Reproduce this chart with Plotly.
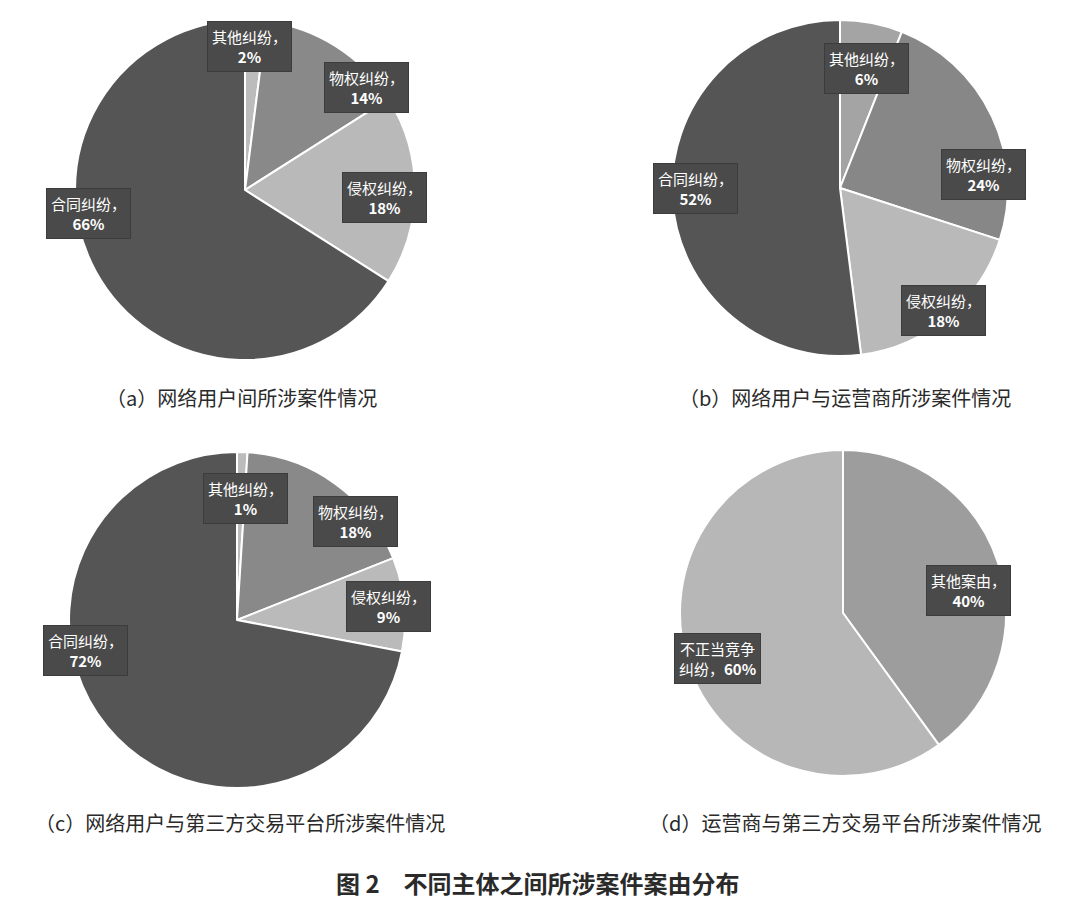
import plotly.graph_objects as go

W, H = 1080, 900

# ---- data ----
labels_a = ["其他纠纷", "物权纠纷", "侵权纠纷", "合同纠纷"]
values_a = [2, 14, 18, 66]
labels_b = ["其他纠纷", "物权纠纷", "侵权纠纷", "合同纠纷"]
values_b = [6, 24, 18, 52]
labels_c = ["其他纠纷", "物权纠纷", "侵权纠纷", "合同纠纷"]
values_c = [1, 18, 9, 72]
labels_d = ["其他案由", "不正当竞争纠纷"]
values_d = [40, 60]

captions = ["（a）网络用户间所涉案件情况", "（b）网络用户与运营商所涉案件情况",
            "（c）网络用户与第三方交易平台所涉案件情况", "（d）运营商与第三方交易平台所涉案件情况"]
title_text = "图 2　不同主体之间所涉案件案由分布"

colors_a = ["#bcbcbc", "#898989", "#b9b9b9", "#555555"]
colors_b = ["#a4a4a4", "#878787", "#b9b9b9", "#555555"]
colors_c = ["#bcbcbc", "#898989", "#bababa", "#555555"]
colors_d = ["#9d9d9d", "#b7b7b7"]

FONT = "Noto Sans CJK SC"


def px2x(px):
    return px / W


def py2y(py):
    return 1 - py / H


def dom(x0, x1, y0, y1):
    return dict(x=[px2x(x0), px2x(x1)], y=[py2y(y1), py2y(y0)])


pies = [
    (labels_a, values_a, colors_a, dom(75, 415, 20, 360)),
    (labels_b, values_b, colors_b, dom(672, 1008, 20, 356)),
    (labels_c, values_c, colors_c, dom(69, 405, 452, 788)),
    (labels_d, values_d, colors_d, dom(680, 1006, 450, 776)),
]

fig = go.Figure()
for labs, vals, cols, d in pies:
    fig.add_trace(go.Pie(
        labels=labs, values=vals, sort=False, direction="clockwise", rotation=0,
        marker=dict(colors=cols, line=dict(color="white", width=2)),
        textinfo="none", hoverinfo="label+percent", domain=d, showlegend=False,
    ))

# label box positions (pixel centers) per slice
label_pos = [
    [(249, 47), (366, 88), (385, 198), (88, 213)],
    [(866, 68), (983, 175), (943, 310), (695, 188)],
    [(245, 499), (355, 521), (388, 606), (85, 650)],
    [(968, 590), (717, 658)],
]
datasets = [(labels_a, values_a), (labels_b, values_b), (labels_c, values_c), (labels_d, values_d)]

annotations = []
for (labs, vals), poss in zip(datasets, label_pos):
    for lab, v, (px, py) in zip(labs, vals, poss):
        if lab == "不正当竞争纠纷":
            txt = "不正当竞争<br>纠纷，<b>%d%%</b>" % v
        else:
            txt = "%s，<br><b>%d%%</b>" % (lab, v)
        annotations.append(dict(
            x=px2x(px), y=py2y(py), xref="paper", yref="paper",
            text=txt, showarrow=False, xanchor="center", yanchor="middle",
            font=dict(family=FONT, size=15, color="white"),
            bgcolor="#4a4a4a", bordercolor="#3c3c3c", borderwidth=1, borderpad=4,
            align="center",
        ))

cap_pos = [(241, 397), (845, 397), (240, 822), (845, 822)]
for cap, (px, py) in zip(captions, cap_pos):
    annotations.append(dict(
        x=px2x(px), y=py2y(py), xref="paper", yref="paper", text=cap,
        showarrow=False, xanchor="center", yanchor="middle",
        font=dict(family=FONT, size=20, color="#2a2a2a"),
    ))

annotations.append(dict(
    x=px2x(538), y=py2y(882), xref="paper", yref="paper", text="<b>" + title_text + "</b>",
    showarrow=False, xanchor="center", yanchor="middle",
    font=dict(family=FONT, size=24, color="#2a2a2a"),
))

fig.update_layout(
    width=W, height=H, margin=dict(l=0, r=0, t=0, b=0),
    paper_bgcolor="white", plot_bgcolor="white",
    annotations=annotations,
)

fig.write_html(
    "out.html",
    config={"displayModeBar": False},
    post_script="document.body.style.margin='0';document.body.style.overflow='hidden';",
)
